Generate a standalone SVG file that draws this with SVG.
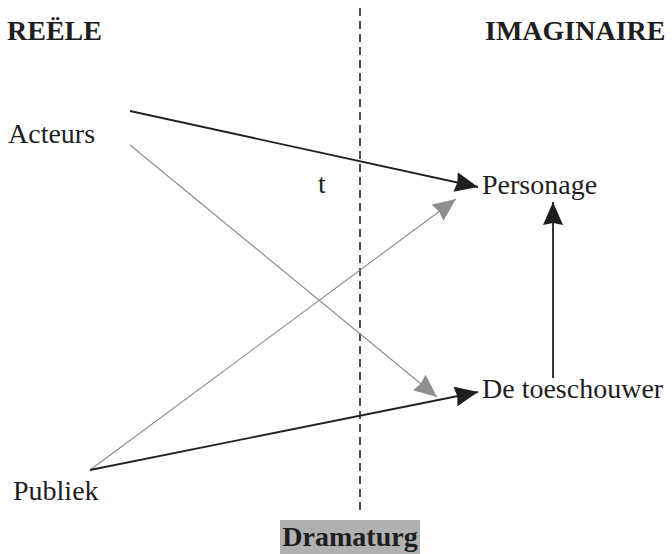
<svg xmlns="http://www.w3.org/2000/svg" width="672" height="554" viewBox="0 0 672 554">
  <style>
    .t { font-family: "Liberation Serif", "Times New Roman", serif; fill: #1e1e1e; font-size: 28px; }
    .b { font-weight: bold; }
    .dark { stroke: #222; stroke-width: 1.8; fill: none; }
    .grey { stroke: #8a8a8a; stroke-width: 1.1; fill: none; }
  </style>
  <defs>
    <marker id="ahDark" markerUnits="userSpaceOnUse" markerWidth="26" markerHeight="22" refX="23" refY="10" orient="auto">
      <path d="M0,0 L23,10 L0,20 L2,10 z" fill="#1e1e1e"/>
    </marker>
    <marker id="ahGrey" markerUnits="userSpaceOnUse" markerWidth="26" markerHeight="22" refX="23" refY="10" orient="auto">
      <path d="M0,0 L23,10 L0,20 L2,10 z" fill="#8f8f8f"/>
    </marker>
  </defs>
  <rect width="672" height="554" fill="#ffffff"/>

  <g id="divider">
    <line x1="360" y1="8" x2="360" y2="511" stroke="#222" stroke-width="1.6" stroke-dasharray="8 5"/>
  </g>

  <g id="header-reele"><text class="t b" x="7" y="40">REËLE</text></g>
  <g id="header-imaginaire"><text class="t b" x="485" y="40">IMAGINAIRE</text></g>

  <g id="node-acteurs"><text class="t" x="8" y="143">Acteurs</text></g>
  <g id="node-publiek"><text class="t" x="13" y="500">Publiek</text></g>
  <g id="node-personage"><text class="t" x="482" y="194">Personage</text></g>
  <g id="node-toeschouwer"><text class="t" x="482" y="398" font-size="28.5">De toeschouwer</text></g>
  <g id="label-t"><text class="t" x="318" y="193">t</text></g>

  <g id="node-dramaturg">
    <rect x="280" y="520" width="140" height="34" fill="#b0b0b0"/>
    <text class="t b" x="350" y="546" font-size="26" text-anchor="middle">Dramaturg</text>
  </g>

  <g id="connectors">
    <line class="dark" x1="130" y1="111" x2="478" y2="187" marker-end="url(#ahDark)"/>
    <line class="grey" x1="130" y1="145" x2="437" y2="397" marker-end="url(#ahGrey)"/>
    <line class="grey" x1="90" y1="470" x2="456" y2="199" marker-end="url(#ahGrey)"/>
    <line class="dark" x1="90" y1="470" x2="478" y2="392" marker-end="url(#ahDark)"/>
    <line class="dark" x1="553" y1="378" x2="553" y2="202" marker-end="url(#ahDark)"/>
  </g>
</svg>
